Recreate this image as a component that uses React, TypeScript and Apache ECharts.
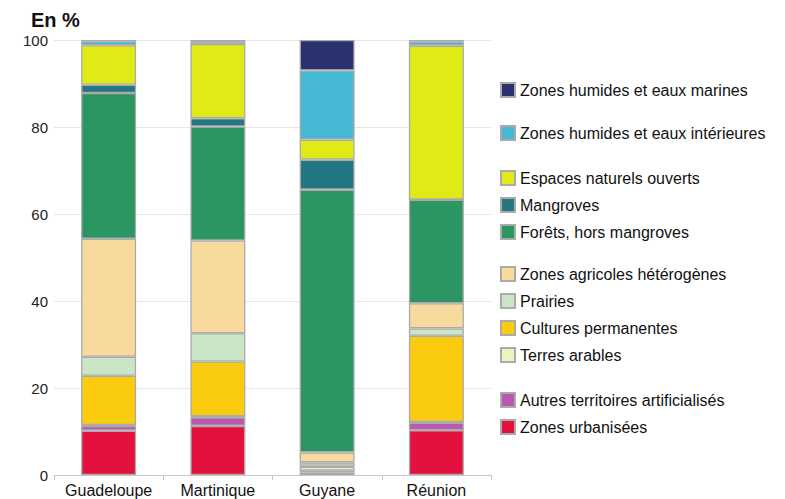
import React, { useEffect, useRef } from "react";
import * as echarts from "echarts";

// Territories on the x axis
const territories = ["Guadeloupe", "Martinique", "Guyane", "Réunion"];

// Land-cover shares (%) per territory, bottom of the stack first
const zonesUrbanisees = [10.2, 11.3, 0.6, 10.3];
const autresArtificialises = [1.1, 2.0, 0.4, 1.7];
const terresArables = [0.2, 0.2, 0.9, 0.2];
const culturesPermanentes = [11.3, 12.6, 0.2, 19.8];
const prairies = [4.4, 6.5, 0.8, 1.7];
const zonesAgricolesHeterogenes = [27.1, 21.3, 2.3, 5.8];
const foretsHorsMangroves = [33.5, 26.2, 60.4, 23.8];
const mangroves = [1.9, 1.9, 6.9, 0.0];
const espacesNaturelsOuverts = [9.1, 17.1, 4.6, 35.4];
const zonesHumidesInterieures = [0.9, 0.4, 15.9, 0.9];
const zonesHumidesMarines = [0.3, 0.5, 7.0, 0.4];

const yTicks = [0, 20, 40, 60, 80, 100];

const seriesDefs = [
  { name: "Zones urbanisées", data: zonesUrbanisees, color: "#e4103e" },
  { name: "Autres territoires artificialisés", data: autresArtificialises, color: "#b85aaf" },
  { name: "Terres arables", data: terresArables, color: "#eef1c0" },
  { name: "Cultures permanentes", data: culturesPermanentes, color: "#facb0f" },
  { name: "Prairies", data: prairies, color: "#cbe6c6" },
  { name: "Zones agricoles hétérogènes", data: zonesAgricolesHeterogenes, color: "#f7da9c" },
  { name: "Forêts, hors mangroves", data: foretsHorsMangroves, color: "#2c9662" },
  { name: "Mangroves", data: mangroves, color: "#247682" },
  { name: "Espaces naturels ouverts", data: espacesNaturelsOuverts, color: "#e0ea17" },
  { name: "Zones humides et eaux intérieures", data: zonesHumidesInterieures, color: "#45b9d3" },
  { name: "Zones humides et eaux marines", data: zonesHumidesMarines, color: "#2b316f" },
];

// Legend groups, top to bottom
const legendGroups = [
  { top: 82, items: ["Zones humides et eaux marines"] },
  { top: 125, items: ["Zones humides et eaux intérieures"] },
  { top: 170, items: ["Espaces naturels ouverts", "Mangroves", "Forêts, hors mangroves"] },
  {
    top: 266,
    items: ["Zones agricoles hétérogènes", "Prairies", "Cultures permanentes", "Terres arables"],
  },
  { top: 392, items: ["Autres territoires artificialisés", "Zones urbanisées"] },
];

const FONT = "'Liberation Sans', Arial, sans-serif";

export default function App() {
  const ref = useRef<HTMLDivElement>(null);

  useEffect(() => {
    if (!ref.current) return;
    const chart = echarts.init(ref.current, undefined, { renderer: "svg" });
    chart.setOption({
      animation: false,
      backgroundColor: "#ffffff",
      textStyle: { fontFamily: FONT },
      title: {
        text: "En %",
        left: 26,
        top: 5,
        textStyle: { fontFamily: FONT, fontSize: 20, fontWeight: "bold", color: "#111" },
      },
      grid: { left: 54, top: 40, width: 437, height: 435, containLabel: false },
      legend: legendGroups.map((g) => ({
        data: g.items,
        top: g.top,
        left: 500,
        orient: "vertical",
        itemWidth: 14,
        itemHeight: 14,
        itemGap: 11,
        icon: "rect",
        selectedMode: false,
        textStyle: {
          fontFamily: FONT,
          fontSize: 16,
          lineHeight: 16,
          color: "#111",
          padding: [0, 0, 0, 0],
        },
        padding: 0,
      })),
      xAxis: {
        type: "category",
        data: territories,
        axisLine: { lineStyle: { color: "#c8c8c8", width: 1 } },
        axisTick: { show: true, lineStyle: { color: "#c8c8c8" }, length: 5 },
        axisLabel: { fontFamily: FONT, fontSize: 16, color: "#111", margin: 7, interval: 0 },
      },
      yAxis: {
        type: "value",
        min: 0,
        max: 100,
        interval: 20,
        axisLine: { show: false },
        axisTick: { show: false },
        splitLine: { lineStyle: { color: "#e6e6e6", width: 1 } },
        axisLabel: {
          fontFamily: FONT,
          fontSize: 15,
          color: "#222",
          margin: 6,
          formatter: (v: number) => (yTicks.includes(v) ? String(v) : ""),
        },
      },
      series: seriesDefs.map((s) => ({
        name: s.name,
        type: "bar",
        stack: "total",
        data: s.data,
        barWidth: 55,
        itemStyle: { color: s.color, borderColor: "#aaaaaa", borderWidth: 1.3 },
      })),
    });
    return () => chart.dispose();
  }, []);

  return (
    <div
      ref={ref}
      style={{ position: "fixed", left: 0, top: 0, width: 785, height: 499 }}
    />
  );
}
